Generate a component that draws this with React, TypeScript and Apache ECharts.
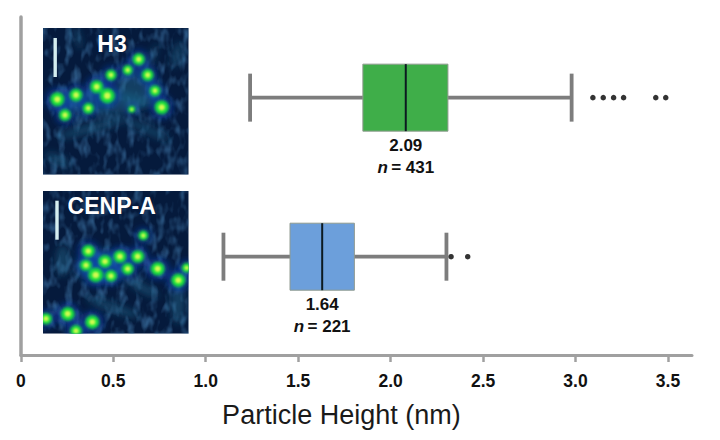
import React, { useEffect, useRef } from "react";
import * as echarts from "echarts";

const rowNames = ["CENP-A", "H3"];
const rowPositions = [1, 2];
const whiskerLow = [1.096, 1.24];
const boxLow = [1.456, 1.85];
const medians = [1.63, 2.082];
const boxHigh = [1.804, 2.31];
const whiskerHigh = [2.302, 2.979];
const medianLabels = ["1.64", "2.09"];
const countLabels = ["= 221", "= 431"];
const boxColors = ["#6c9fdb", "#3fae49"];
const outliersCenpA = [2.327, 2.417];
const outliersH3 = [3.094, 3.15, 3.206, 3.26, 3.434, 3.488];
const tickValues = [0, 0.5, 1, 1.5, 2, 2.5, 3, 3.5];
const axisTitle = "Particle Height (nm)";

const spotsH3 = [
  [14.6, 71.6, 7], [33.3, 67.3, 6.5], [54, 59, 6.5], [64.6, 68, 7.5], [68.3, 47.3, 5.5],
  [85, 42.3, 5], [96, 31.6, 6], [105, 47.3, 6], [112.3, 63, 5.5], [119, 79.6, 7],
  [45.6, 80.6, 5.5], [22.3, 87.3, 6], [89, 81.6, 3.5],
];
const spotsCenpA = [
  [45.6, 62, 6.5], [43.3, 76.6, 6], [62.3, 72.6, 6.5], [53, 86.6, 7.5], [68.3, 87.6, 6],
  [77.3, 67.6, 6.5], [85, 80.3, 6], [95, 67.6, 6.5], [100.6, 46, 5], [115, 80.3, 7],
  [135.6, 92, 7], [144, 79.3, 5], [25, 126.6, 7], [3.3, 131.6, 6], [49.6, 135, 7], [33.3, 144, 6],
];
const streaksH3 = [
  [35, 10, 3, 12, -15], [134, 27, 5, 13, 15], [110, 28, 2.5, 13, 20], [50, 100, 36, 5, -15],
  [105, 102, 25, 4, 25], [15, 132, 14, 5, 25], [60, 75, 46, 12, 0], [96, 62, 22, 18, 0],
];
const streaksCenpA = [
  [20, 72, 7, 16, 0], [60, 78, 28, 18, 0], [100, 100, 18, 5, 30], [135, 115, 7, 22, 0], [70, 120, 28, 5, 20],
];

function micrograph(spots: number[][], streaks: number[][], seed: number) {
  const streakMarks = streaks
    .map(([x, y, rx, ry, a]) => `<ellipse cx="${x}" cy="${y}" rx="${rx}" ry="${ry}" fill="#1f6a90" opacity="0.45" transform="rotate(${a} ${x} ${y})"/>`)
    .join("");
  const halos = spots.map(([x, y, r]) => `<circle cx="${x}" cy="${y}" r="${r * 1.6}" fill="#1245c0" opacity="0.6"/>`).join("");
  const greens = spots.map(([x, y, r]) => `<circle cx="${x}" cy="${y}" r="${r}" fill="#12e03a"/>`).join("");
  const cores = spots.map(([x, y, r]) => `<circle cx="${x}" cy="${y}" r="${r * 0.45}" fill="#d0fa50"/>`).join("");
  const svg = `<svg xmlns="http://www.w3.org/2000/svg" width="146" height="147" viewBox="0 0 146 147" preserveAspectRatio="none">
<defs>
<filter id="n" x="0" y="0" width="100%" height="100%"><feTurbulence type="fractalNoise" baseFrequency="0.13 0.07" numOctaves="2" seed="${seed}"/><feColorMatrix type="matrix" values="0 0 0 0 0.06  0 0 0 0 0.22  0 0 0 0 0.46  1.5 0 0 0 -0.68"/></filter>
<filter id="b3"><feGaussianBlur stdDeviation="3.5"/></filter>
<filter id="b2"><feGaussianBlur stdDeviation="1.6"/></filter>
<filter id="b1"><feGaussianBlur stdDeviation="1.2"/></filter>
</defs>
<rect width="146" height="147" fill="#051a3c"/>
<rect width="146" height="147" filter="url(#n)"/>
<g filter="url(#b3)">${streakMarks}${halos}</g>
<g filter="url(#b2)">${greens}</g>
<g filter="url(#b1)">${cores}</g>
</svg>`;
  return "data:image/svg+xml;charset=utf-8," + encodeURIComponent(svg);
}

const grey = "#7d7d7d";
const axisGrey = "#a0a0a0";

function renderBox(params: any, api: any) {
  const i = params.dataIndex;
  const row = rowPositions[i];
  const c = api.coord([medians[i], row]);
  const cy = c[1];
  const x = (v: number) => api.coord([v, row])[0];
  const boxHalf = 33.5;
  const capHalf = 24;
  const whisker = { stroke: grey, lineWidth: 3.8 };
  return {
    type: "group",
    children: [
      { type: "line", shape: { x1: x(whiskerLow[i]), y1: cy, x2: x(whiskerHigh[i]), y2: cy }, style: whisker },
      { type: "line", shape: { x1: x(whiskerLow[i]), y1: cy - capHalf, x2: x(whiskerLow[i]), y2: cy + capHalf }, style: whisker },
      { type: "line", shape: { x1: x(whiskerHigh[i]), y1: cy - capHalf, x2: x(whiskerHigh[i]), y2: cy + capHalf }, style: whisker },
      {
        type: "rect",
        shape: { x: x(boxLow[i]), y: cy - boxHalf, width: x(boxHigh[i]) - x(boxLow[i]), height: boxHalf * 2 },
        style: { fill: boxColors[i], stroke: "#8f9a8f", lineWidth: 1 },
      },
      { type: "line", shape: { x1: c[0], y1: cy - boxHalf, x2: c[0], y2: cy + boxHalf }, style: { stroke: "#0c1a20", lineWidth: 2 } },
      {
        type: "text",
        x: c[0],
        y: cy + boxHalf + 14,
        style: { text: medianLabels[i], fill: "#111", font: "bold 17px 'Liberation Sans'", align: "center", verticalAlign: "middle" },
      },
      {
        type: "text",
        x: c[0],
        y: cy + boxHalf + 36,
        style: {
          text: `{i|n} {b|${countLabels[i]}}`,
          align: "center",
          verticalAlign: "middle",
          rich: {
            i: { font: "italic bold 17px 'Liberation Sans'", fill: "#111" },
            b: { font: "bold 17px 'Liberation Sans'", fill: "#111" },
          },
        },
      },
    ],
  };
}

export default function App() {
  const ref = useRef<HTMLDivElement>(null);
  useEffect(() => {
    const chart = echarts.init(ref.current!, undefined, { renderer: "svg" });
    chart.setOption({
      animation: false,
      backgroundColor: "#ffffff",
      grid: { left: 20.8, right: 28, top: 17, bottom: 85 },
      xAxis: {
        type: "value",
        min: 0,
        max: 3.63,
        splitLine: { show: false },
        axisLine: { show: true, lineStyle: { color: axisGrey, width: 3 } },
        axisTick: { show: true, length: 7, customValues: tickValues, lineStyle: { color: axisGrey, width: 2.5 } },
        axisLabel: {
          customValues: tickValues,
          formatter: (v: number) => (v === 0 ? "0" : v.toFixed(1)),
          color: "#111",
          fontFamily: "Liberation Sans",
          fontWeight: "bold",
          fontSize: 17.5,
          margin: 17,
        },
        name: axisTitle,
        nameLocation: "middle",
        nameGap: 46,
        nameTextStyle: { color: "#1a1a1a", fontFamily: "Liberation Sans", fontSize: 27, padding: [0, 30, 0, 0] },
      },
      yAxis: {
        type: "value",
        min: 0.382,
        max: 2.507,
        splitLine: { show: false },
        axisLine: { show: true, onZero: false, lineStyle: { color: axisGrey, width: 3.5 } },
        axisTick: { show: false },
        axisLabel: { show: false },
      },
      series: [
        {
          type: "custom",
          name: "Boxes",
          clip: false,
          renderItem: renderBox,
          data: rowPositions.map((r, i) => ({ name: rowNames[i], value: [medians[i], r] })),
          encode: { x: 0, y: 1 },
          silent: true,
        },
        {
          type: "scatter",
          name: "H3 outliers",
          symbolSize: 5.5,
          itemStyle: { color: "#000" },
          data: outliersH3.map((v) => [v, rowPositions[1]]),
          silent: true,
        },
        {
          type: "scatter",
          name: "CENP-A outliers",
          symbolSize: 5.5,
          itemStyle: { color: "#000" },
          data: outliersCenpA.map((v) => [v, rowPositions[0]]),
          silent: true,
        },
      ],
      graphic: [
        { type: "image", x: 42.7, y: 27.7, z: 5, style: { image: micrograph(spotsH3, streaksH3, 4), width: 146, height: 147 } },
        { type: "image", x: 42.7, y: 190.7, z: 5, style: { image: micrograph(spotsCenpA, streaksCenpA, 9), width: 146, height: 143 } },
        { type: "rect", z: 6, shape: { x: 53.5, y: 38, width: 3.4, height: 39 }, style: { fill: "#d5eef0" } },
        { type: "rect", z: 6, shape: { x: 55.3, y: 200.7, width: 3.4, height: 39 }, style: { fill: "#d5eef0" } },
        { type: "text", z: 6, x: 112, y: 44, style: { text: rowNames[1], fill: "#fff", font: "bold 23px 'Liberation Sans'", align: "center", verticalAlign: "middle" } },
        { type: "text", z: 6, x: 111.7, y: 206, style: { text: rowNames[0], fill: "#fff", font: "bold 23px 'Liberation Sans'", align: "center", verticalAlign: "middle" } },
      ],
    });
    return () => chart.dispose();
  }, []);
  return <div ref={ref} style={{ position: "absolute", left: 0, top: 0, width: 720, height: 440 }} />;
}
